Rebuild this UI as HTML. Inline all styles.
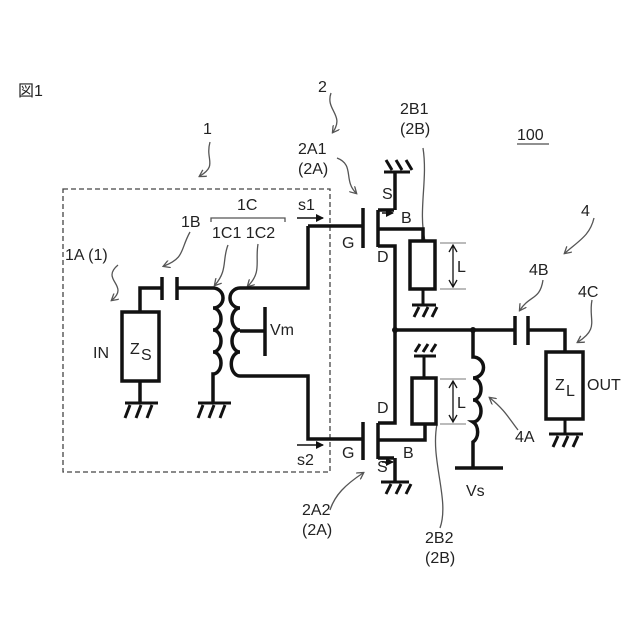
<!DOCTYPE html>
<html><head><meta charset="utf-8"><style>
body{margin:0;background:#fff}
svg{display:block}
text{font-family:"Liberation Sans","Noto Sans CJK JP",sans-serif;fill:#222;font-size:16px}
.w{stroke:#111;stroke-width:3.5;fill:none}
.t{stroke:#555;stroke-width:1.3;fill:none}
.g{stroke:#111;stroke-width:3;fill:none}
</style></head><body>
<svg width="640" height="640" viewBox="0 0 640 640" xmlns="http://www.w3.org/2000/svg">
<defs>
<marker id="a" markerWidth="8" markerHeight="8" refX="6" refY="4" orient="auto" markerUnits="userSpaceOnUse"><path d="M0,0 L7,4 L0,8" fill="none" stroke="#555" stroke-width="1.3"/></marker>
<marker id="b" markerWidth="8" markerHeight="8" refX="7" refY="4" orient="auto" markerUnits="userSpaceOnUse"><path d="M0,0 L8,4 L0,8 z" fill="#111"/></marker>
</defs>
<rect x="63" y="189" width="267" height="283" fill="none" stroke="#444" stroke-width="1.3" stroke-dasharray="5,3"/>
<text x="18" y="96">図1</text>
<text x="203" y="134">1</text>
<text x="318" y="92">2</text>
<text x="400" y="114">2B1</text><text x="400" y="134">(2B)</text>
<text x="517" y="140">100</text><line x1="517" y1="144" x2="549" y2="144" stroke="#222" stroke-width="1"/>
<text x="298" y="154">2A1</text><text x="298" y="174">(2A)</text>
<text x="581" y="216">4</text>
<text x="529" y="275">4B</text>
<text x="578" y="297">4C</text>
<text x="65" y="260">1A (1)</text>
<text x="181" y="227">1B</text>
<text x="237" y="210">1C</text>
<path d="M211,222 V218 H285 V222" class="t"/>
<text x="212" y="238">1C1 1C2</text>
<text x="93" y="358">IN</text>
<text x="130" y="354">Z</text><text x="141" y="360" font-size="12">S</text>
<text x="270" y="335">Vm</text>
<text x="298" y="210">s1</text>
<text x="297" y="465">s2</text>
<text x="342" y="248">G</text><text x="382" y="199">S</text><text x="401" y="223">B</text><text x="377" y="262">D</text>
<text x="377" y="413">D</text><text x="342" y="458">G</text><text x="403" y="458">B</text><text x="377" y="472">S</text>
<text x="302" y="515">2A2</text><text x="302" y="535">(2A)</text>
<text x="466" y="496">Vs</text>
<text x="425" y="543">2B2</text><text x="425" y="563">(2B)</text>
<text x="457" y="272">L</text><text x="457" y="408">L</text>
<text x="555" y="390">Z</text><text x="566" y="396" font-size="12">L</text>
<text x="587" y="390">OUT</text>
<text x="515" y="442">4A</text>

<!-- leaders -->
<path d="M118,265 C100,280 130,285 112,300" class="t" marker-end="url(#a)"/>
<path d="M190,232 C180,250 185,258 164,266" class="t" marker-end="url(#a)"/>
<path d="M228,245 C222,260 228,270 215,285" class="t" marker-end="url(#a)"/>
<path d="M258,244 C255,262 262,272 248,286" class="t" marker-end="url(#a)"/>
<path d="M210,142 C205,160 218,165 200,176" class="t" marker-end="url(#a)"/>
<path d="M331,93 C325,110 345,115 333,132" class="t" marker-end="url(#a)"/>
<path d="M337,158 C355,165 343,180 356,193" class="t" marker-end="url(#a)"/>
<path d="M423,148 C428,180 418,210 425,241" class="t"/>
<path d="M437,424 C430,460 450,500 440,528" class="t"/>
<path d="M330,510 C335,495 345,485 363,473" class="t" marker-end="url(#a)"/>
<path d="M594,218 C590,235 580,240 565,253" class="t" marker-end="url(#a)"/>
<path d="M543,280 C540,300 530,295 520,310" class="t" marker-end="url(#a)"/>
<path d="M592,300 C588,320 600,328 578,342" class="t" marker-end="url(#a)"/>
<path d="M518,430 C510,420 505,410 490,398" class="t" marker-end="url(#a)"/>
<!-- s arrows -->
<line x1="297" y1="218" x2="323" y2="218" stroke="#111" stroke-width="1.5" marker-end="url(#b)"/>
<line x1="297" y1="445" x2="323" y2="445" stroke="#111" stroke-width="1.5" marker-end="url(#b)"/>

<!-- input -->
<rect x="122" y="312" width="37" height="69" class="w"/>
<path d="M140,312 V288 H162 M162,277 V300 M177,277 V300 M177,288 H213" class="w"/>
<path d="M140,381 V403" class="w"/>
<path d="M125,403 H158 M130,405 L125,418 M141,405 L136,418 M152,405 L147,418" class="g"/>
<!-- primary -->
<path d="M213,288 A10,10 0 0 1 213,308 A8,11 0 0 1 213,330 A8,11 0 0 1 213,352 A8,11 0 0 1 213,374 V403" class="w"/>
<path d="M198,403 H231 M203,405 L198,418 M214,405 L209,418 M225,405 L220,418" class="g"/>
<!-- secondary -->
<path d="M308,226 V288 H240 A10,10 0 0 0 240,308 A8,11 0 0 0 240,330 A8,11 0 0 0 240,352 A8,11 0 0 0 240,376 H308 V439 H363" class="w"/>
<path d="M308,226 H363" class="w"/>
<path d="M240,331 H265 M265,307 V356" class="w"/>
<!-- upper transistor -->
<path d="M363,208 V248 M378,210 V247" class="w"/>
<path d="M378,210 H394 M395,210 V172 M378,229 H423 V241 M378,246 H395 V330" class="w"/>
<path d="M382,213 H393" stroke="#111" stroke-width="1.5" marker-end="url(#b)"/>
<path d="M384,172 H410 M386,160 L392,170 M396,160 L402,170 M406,160 L412,170" class="g"/>
<rect x="410" y="241" width="25" height="48" class="w"/>
<path d="M423,289 V305 M412,305 H436 M414,317 L419,307 M423,317 L428,307 M432,317 L437,307" class="g"/>
<path d="M440,243 H466 M440,289 H466" stroke="#777" stroke-width="1"/>
<line x1="453" y1="246" x2="453" y2="286" stroke="#111" stroke-width="1.3"/>
<path d="M449,252 L453,245 L457,252 M449,280 L453,287 L457,280" fill="none" stroke="#111" stroke-width="1.3"/>
<!-- node -->
<circle cx="395" cy="330" r="3" fill="#111"/>
<circle cx="473" cy="330" r="3" fill="#111"/>
<path d="M395,330 H514 M515,316 V345 M528,316 V345 M528,330 H565 V352" class="w"/>
<rect x="546" y="352" width="37" height="67" class="w"/>
<path d="M565,419 V434 M549,434 H583 M553,447 L558,436 M563,447 L568,436 M573,447 L578,436" class="g"/>
<!-- 4A inductor -->
<path d="M473,330 V357 A10,10 0 0 1 473,378 A8,11 0 0 1 473,400 A8,11 0 0 1 473,422 A8,11 0 0 1 473,442 V468 M455,468 H503" class="w"/>
<!-- lower transistor -->
<path d="M363,422 V460 M378,423 V459" class="w"/>
<path d="M378,423 H395 V330 M378,440 H425 V424 M378,458 H394 M395,458 V482" class="w"/>
<path d="M382,462 H393" stroke="#111" stroke-width="1.5" marker-end="url(#b)"/>
<path d="M381,482 H409 M386,494 L391,484 M396,494 L401,484 M406,494 L411,484" class="g"/>
<rect x="412" y="378" width="24" height="46" class="w"/>
<path d="M424,378 V356 M414,356 H436 M415,352 L420,344 M423,352 L428,344 M431,352 L436,344" class="g"/>
<path d="M440,379 H466 M440,424 H466" stroke="#777" stroke-width="1"/>
<line x1="453" y1="382" x2="453" y2="421" stroke="#111" stroke-width="1.3"/>
<path d="M449,388 L453,381 L457,388 M449,415 L453,422 L457,415" fill="none" stroke="#111" stroke-width="1.3"/>
</svg>
</body></html>
